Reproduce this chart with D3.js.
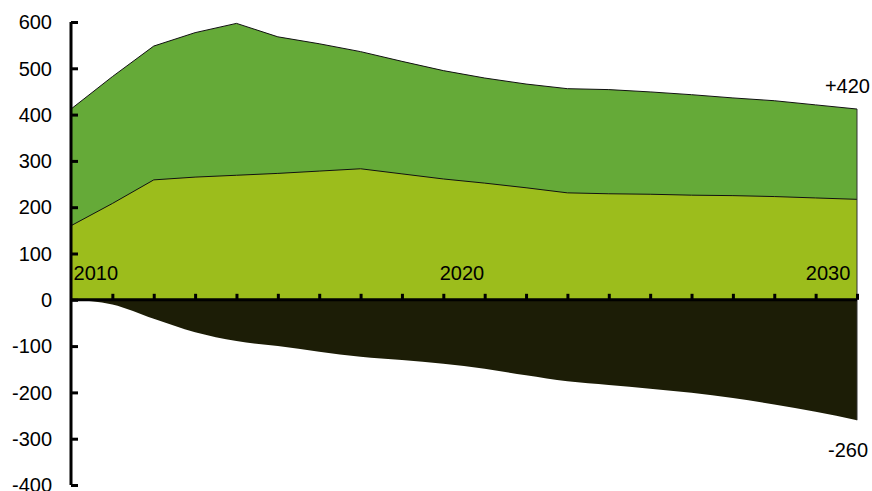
<!DOCTYPE html>
<html><head><meta charset="utf-8">
<script src="https://cdn.jsdelivr.net/npm/d3@7"></script>
<style>body{margin:0;background:#fff}svg{display:block}text{font-family:"Liberation Sans",Arial,sans-serif;fill:#000}</style>
</head><body><svg id="c" width="872" height="491"></svg>
<script>
// data points, evenly spaced along the x axis (index 0..19)
const upperTotal = [412, 482, 548, 577, 597, 568, 553, 536, 515, 495, 479, 466, 456, 454, 449, 443, 436, 430, 421, 412];
const middleTop  = [160, 208, 259, 265, 269, 273, 278, 283, 272, 261, 252, 242, 231, 229, 228, 226, 225, 223, 220, 217];
const lowerNeg   = [0, -10, -41, -70, -89, -100, -112, -123, -130, -138, -149, -163, -176, -184, -192, -201, -212, -226, -242, -260];
const yTicks = [600, 500, 400, 300, 200, 100, 0, -100, -200, -300, -400];
const xLabels = ["2010", "2020", "2030"];
const xLabelIndex = [0.6, 9.45, 18.3];
const endLabels = ["+420", "-260"];
const colors = {upper: "#65aa38", middle: "#9cbd1c", lower: "#1c1d06"};

const svg = d3.select("#c");
const n = upperTotal.length;
const x = d3.scaleLinear().domain([0, n - 1]).range([71, 857]);
const y = d3.scaleLinear().domain([-400, 600]).range([485, 22]);
const idx = d3.range(n);

const area = (vals, curve) => d3.area().x(i => x(i)).y0(y(0)).y1(i => y(vals[i])).curve(curve || d3.curveLinear);
const line = (vals) => d3.line().x(i => x(i)).y(i => y(vals[i]));

svg.append("path").attr("d", area(upperTotal)(idx)).attr("fill", colors.upper);
svg.append("path").attr("d", area(middleTop)(idx)).attr("fill", colors.middle);
svg.append("path").attr("d", area(lowerNeg, d3.curveMonotoneX)(idx)).attr("fill", colors.lower);
svg.append("path").attr("d", line(upperTotal)(idx)).attr("fill", "none").attr("stroke", "#111").attr("stroke-width", 1);
svg.append("path").attr("d", line(middleTop)(idx)).attr("fill", "none").attr("stroke", "#111").attr("stroke-width", 1);
// right edge
svg.append("line").attr("x1", x(n - 1)).attr("x2", x(n - 1)).attr("y1", y(upperTotal[n - 1])).attr("y2", y(lowerNeg[n - 1]))
  .attr("stroke", "#333").attr("stroke-width", 1);

// y axis
const yAxis = d3.axisRight(y).tickValues(yTicks).tickSize(7).tickFormat("");
const gy = svg.append("g").attr("transform", "translate(71,0)").call(yAxis);
gy.select(".domain").attr("d", `M0,${y(600)}V${y(-400)}`).attr("stroke", "#000").attr("stroke-width", 3);
gy.selectAll(".tick line").attr("stroke", "#000").attr("stroke-width", 3);
svg.append("g").selectAll("text").data(yTicks).join("text")
  .attr("x", 52).attr("y", d => y(d)).attr("dy", "0.36em").attr("text-anchor", "end")
  .attr("font-size", 20).text(d => d);

// x axis
const xAxis = d3.axisTop(x).tickValues(d3.range(1, n)).tickSize(6).tickFormat("");
const gx = svg.append("g").attr("transform", `translate(0,${y(0)})`).call(xAxis);
gx.select(".domain").attr("d", `M${x(0)},0H${x(n - 1)}`).attr("stroke", "#000").attr("stroke-width", 3);
gx.selectAll(".tick line").attr("stroke", "#000").attr("stroke-width", 3);
svg.append("g").selectAll("text").data(xLabels).join("text")
  .attr("x", (d, i) => x(xLabelIndex[i])).attr("y", y(0) - 20).attr("text-anchor", "middle")
  .attr("font-size", 20).text(d => d);

svg.append("text").attr("x", 870).attr("y", 93).attr("text-anchor", "end").attr("font-size", 20).text(endLabels[0]);
svg.append("text").attr("x", 868).attr("y", 457).attr("text-anchor", "end").attr("font-size", 20).text(endLabels[1]);
</script></body></html>
